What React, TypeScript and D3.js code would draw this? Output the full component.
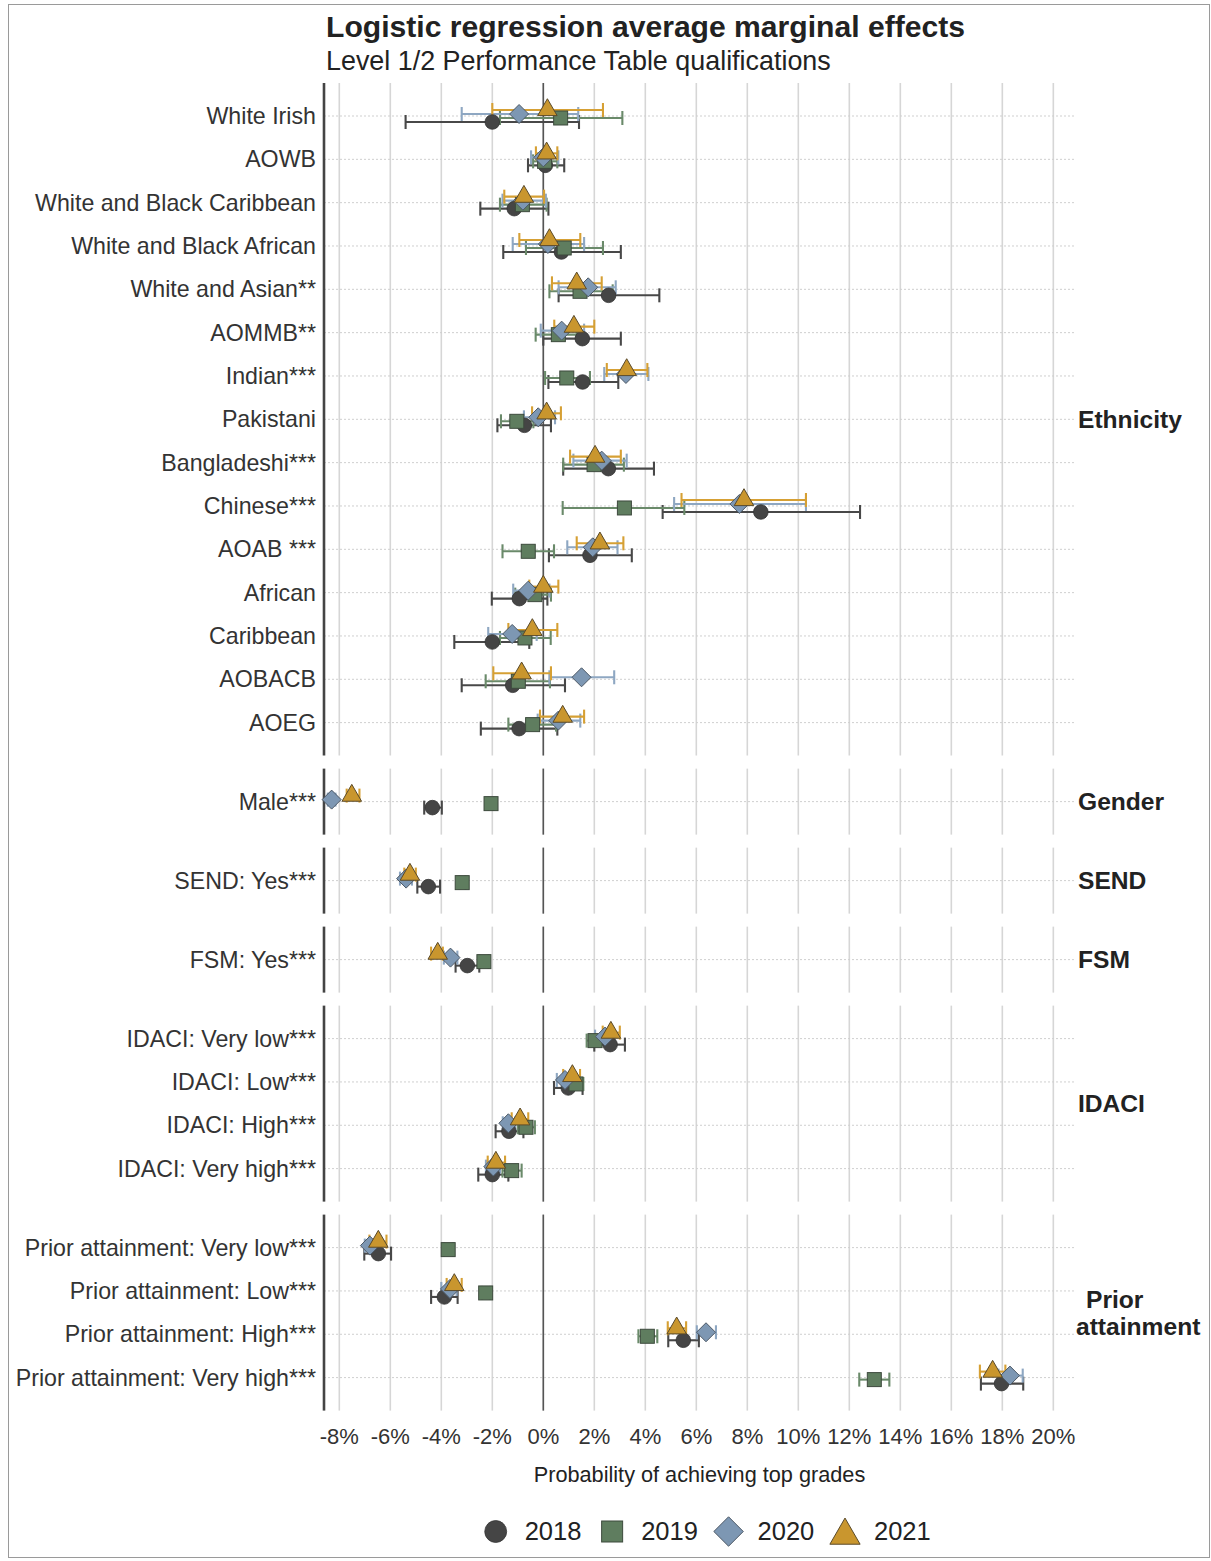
import React from "react";
import * as d3 from "d3";

const categories = [
  "White Irish", "AOWB", "White and Black Caribbean", "White and Black African",
  "White and Asian**", "AOMMB**", "Indian***", "Pakistani", "Bangladeshi***",
  "Chinese***", "AOAB ***", "African", "Caribbean", "AOBACB", "AOEG",
  "Male***", "SEND: Yes***", "FSM: Yes***",
  "IDACI: Very low***", "IDACI: Low***", "IDACI: High***", "IDACI: Very high***",
  "Prior attainment: Very low***", "Prior attainment: Low***",
  "Prior attainment: High***", "Prior attainment: Very high***",
];

const panelNames = [["Ethnicity"], ["Gender"], ["SEND"], ["FSM"], ["IDACI"], ["Prior", "attainment"]];
const panelSizes = [15, 1, 1, 1, 4, 4];

const years = ["2018", "2019", "2020", "2021"];

const est2018 = [-2.0, 0.08, -1.14, 0.71, 2.56, 1.53, 1.54, -0.74, 2.55, 8.53, 1.83, -0.94, -2.0, -1.2, -0.95, -4.35, -4.51, -2.98, 2.62, 0.98, -1.35, -2.0, -6.47, -3.88, 5.49, 17.97];
const lo2018 = [-5.4, -0.6, -2.47, -1.57, 0.6, 0.0, 0.2, -1.8, 0.78, 4.68, 0.22, -2.02, -3.49, -3.2, -2.45, -4.67, -4.94, -3.44, 2.0, 0.42, -1.87, -2.55, -7.02, -4.4, 4.9, 17.16];
const hi2018 = [1.4, 0.82, 0.2, 3.04, 4.55, 3.04, 2.94, 0.3, 4.34, 12.42, 3.47, 0.16, -0.55, 0.85, 0.55, -3.98, -4.05, -2.51, 3.2, 1.54, -0.78, -1.37, -5.97, -3.36, 6.1, 18.82];

const est2019 = [0.68, 0.05, -0.82, 0.82, 1.44, 0.59, 0.92, -1.04, 1.99, 3.18, -0.59, -0.33, -0.72, -0.98, -0.42, -2.05, -3.18, -2.33, 2.03, 1.28, -0.68, -1.24, -3.73, -2.26, 4.08, 12.98];
const lo2019 = [-1.7, -0.4, -1.7, -0.68, 0.24, -0.3, 0.07, -1.66, 0.78, 0.76, -1.6, -1.1, -1.7, -2.26, -1.37, -2.15, -3.3, -2.5, 1.7, 0.95, -1.0, -1.6, -3.9, -2.4, 3.73, 12.39];
const hi2019 = [3.1, 0.55, 0.13, 2.34, 2.72, 1.31, 1.83, -0.39, 3.16, 5.53, 0.42, 0.3, 0.29, 0.26, 0.5, -1.95, -3.05, -2.15, 2.4, 1.57, -0.33, -0.85, -3.55, -2.1, 4.47, 13.57];

const est2020 = [-0.95, 0.0, -0.8, 0.18, 1.76, 0.72, 3.24, -0.2, 2.29, 7.69, 1.94, -0.59, -1.22, 1.5, 0.59, -8.3, -5.38, -3.64, 2.42, 0.85, -1.37, -1.96, -6.8, -3.66, 6.38, 18.3];
const lo2020 = [-3.2, -0.48, -1.6, -1.2, 0.6, -0.1, 2.39, -0.76, 1.18, 5.13, 0.94, -1.18, -2.16, 0.24, -0.22, -8.45, -5.62, -3.9, 2.03, 0.53, -1.59, -2.25, -7.0, -4.0, 6.02, 17.85];
const hi2020 = [1.37, 0.59, 0.1, 1.6, 2.84, 1.6, 4.12, 0.46, 3.27, 10.3, 2.91, 0.24, -0.26, 2.78, 1.45, -8.15, -5.15, -3.37, 2.8, 1.17, -1.1, -1.7, -6.6, -3.4, 6.77, 18.8];

const est2021 = [0.16, 0.13, -0.76, 0.24, 1.31, 1.2, 3.27, 0.13, 2.03, 7.87, 2.22, 0.0, -0.43, -0.85, 0.76, -7.51, -5.23, -4.14, 2.65, 1.14, -0.91, -1.86, -6.47, -3.49, 5.23, 17.62];
const lo2021 = [-2.0, -0.29, -1.53, -0.94, 0.34, 0.43, 2.49, -0.44, 1.05, 5.42, 1.31, -0.55, -1.37, -1.96, -0.13, -7.71, -5.45, -4.4, 2.33, 0.78, -1.24, -2.18, -6.82, -3.79, 4.88, 17.12];
const hi2021 = [2.34, 0.55, 0.03, 1.45, 2.29, 2.0, 4.08, 0.69, 3.04, 10.3, 3.14, 0.59, 0.55, 0.3, 1.6, -7.21, -5.0, -3.94, 3.0, 1.44, -0.59, -1.5, -6.15, -3.2, 5.6, 18.12];

const xTicks = [-8, -6, -4, -2, 0, 2, 4, 6, 8, 10, 12, 14, 16, 18, 20];

const series = [
  { year: "2018", est: est2018, lo: lo2018, hi: hi2018, fill: "#454545", bar: "#484848", stroke: "#333333", shape: "circle" },
  { year: "2019", est: est2019, lo: lo2019, hi: hi2019, fill: "#5f7d5f", bar: "#6a8a6a", stroke: "#3d4a3d", shape: "square" },
  { year: "2020", est: est2020, lo: lo2020, hi: hi2020, fill: "#7d97b3", bar: "#8ea7c2", stroke: "#4d5966", shape: "diamond" },
  { year: "2021", est: est2021, lo: lo2021, hi: hi2021, fill: "#c9962e", bar: "#d6a034", stroke: "#5a4a2a", shape: "triangle" },
];

const FONT = "'Liberation Sans', Arial, Helvetica, sans-serif";

function marker(shape: string, x: number, y: number, s: number, fill: string, stroke: string, key?: string) {
  if (shape === "circle") return <circle key={key} cx={x} cy={y} r={7.3 * s} fill={fill} stroke={stroke} strokeWidth={0.8} />;
  if (shape === "square") {
    const h = 7 * s;
    return <rect key={key} x={x - h} y={y - h} width={2 * h} height={2 * h} fill={fill} stroke={stroke} strokeWidth={1} />;
  }
  if (shape === "diamond") {
    const h = 9.5 * s;
    return <path key={key} d={`M${x},${y - h}L${x + h},${y}L${x},${y + h}L${x - h},${y}Z`} fill={fill} stroke={stroke} strokeWidth={1} />;
  }
  const side = 19.5 * s;
  const ht = side * Math.sqrt(3) / 2;
  return <path key={key} d={`M${x},${y - (2 * ht) / 3}L${x + side / 2},${y + ht / 3}L${x - side / 2},${y + ht / 3}Z`} fill={fill} stroke={stroke} strokeWidth={1} />;
}

export default function App() {
  const W = 1211, H = 1561;
  const x = d3.scaleLinear().domain([-8.6, 20.85]).range([324, 1075]);
  const step = 43.33, pad = 33, gap = 13, top0 = 83;

  const panels: { top: number; bottom: number; rows: number[]; scale: d3.ScalePoint<string> }[] = [];
  let cur = top0;
  let idx = 0;
  panelSizes.forEach((n) => {
    const h = 2 * pad + (n - 1) * step;
    const rows = d3.range(idx, idx + n);
    const scale = d3.scalePoint<string>().domain(rows.map((r) => categories[r])).range([cur, cur + h]).padding(pad / step);
    panels.push({ top: cur, bottom: cur + h, rows, scale });
    cur += h + gap;
    idx += n;
  });
  const rowY = (r: number) => {
    const p = panels.find((pp) => pp.rows.includes(r))!;
    return p.scale(categories[r]) as number;
  };
  const dodge = d3.scalePoint<string>().domain(years).range([6, -6]);
  const plotBottom = panels[panels.length - 1].bottom;

  return (
    <div style={{ position: "absolute", left: 0, top: 0 }}>
      <svg width={W} height={H} style={{ display: "block", background: "#fff" }} fontFamily={FONT}>
        <rect x={8.5} y={4.5} width={1201} height={1553} fill="none" stroke="#9a9a9a" strokeWidth={1} />
        <text x={326} y={37} fontSize={30.1} fontWeight="bold" fill="#222">Logistic regression average marginal effects</text>
        <text x={326} y={70} fontSize={26.9} fill="#222">Level 1/2 Performance Table qualifications</text>

        {panels.map((p, pi) => (
          <g key={"panel" + pi}>
            {xTicks.map((t) => (
              <line key={t} x1={x(t)} x2={x(t)} y1={p.top} y2={p.bottom} stroke="#d6d6d6" strokeWidth={1.6} />
            ))}
            {p.rows.map((r) => (
              <line key={"h" + r} x1={x.range()[0]} x2={x.range()[1]} y1={rowY(r)} y2={rowY(r)} stroke="#cfcfcf" strokeWidth={1} strokeDasharray="2,2" />
            ))}
            <line x1={x(0)} x2={x(0)} y1={p.top} y2={p.bottom} stroke="#555" strokeWidth={1.6} />
            <line x1={x.range()[0]} x2={x.range()[0]} y1={p.top} y2={p.bottom} stroke="#444" strokeWidth={2.6} />
            {panelNames[pi].map((ln, li) => {
              const mid = (p.top + p.bottom) / 2;
              const n = panelNames[pi].length;
              const yy = mid + (li - (n - 1) / 2) * 27;
              const xx = n > 1 ? (li === 0 ? 1086 : 1076) : 1078;
              return (
                <text key={ln} x={xx} y={yy} dy="0.35em" fontSize={24.6} fontWeight="bold" fill="#222">{ln}</text>
              );
            })}
          </g>
        ))}

        {categories.map((c, r) => (
          <text key={c} x={316} y={rowY(r)} dy="0.35em" textAnchor="end" fontSize={23.2} fill="#333">{c}</text>
        ))}

        {series.map((s) => (
          <g key={"eb" + s.year}>
            {categories.map((c, r) => {
              const y = rowY(r) + (dodge(s.year) as number);
              const x1 = x(s.lo[r]), x2 = x(s.hi[r]);
              return (
                <g key={c}>
                  <line x1={x1} x2={x2} y1={y} y2={y} stroke={s.bar} strokeWidth={2.1} />
                  <line x1={x1} x2={x1} y1={y - 7} y2={y + 7} stroke={s.bar} strokeWidth={2.1} />
                  <line x1={x2} x2={x2} y1={y - 7} y2={y + 7} stroke={s.bar} strokeWidth={2.1} />
                </g>
              );
            })}
          </g>
        ))}

        {series.map((s) => (
          <g key={"pt" + s.year}>
            {categories.map((c, r) =>
              marker(s.shape, x(s.est[r]), rowY(r) + (dodge(s.year) as number), 1, s.fill, s.stroke, c)
            )}
          </g>
        ))}

        {xTicks.map((t) => (
          <text key={"tl" + t} x={x(t)} y={plotBottom + 26} dy="0.35em" textAnchor="middle" fontSize={22} fill="#333">{`${t}%`}</text>
        ))}
        <text x={(x.range()[0] + x.range()[1]) / 2} y={plotBottom + 64} dy="0.35em" textAnchor="middle" fontSize={21.7} fill="#222">Probability of achieving top grades</text>

        {(() => {
          const lx = d3.scalePoint<string>().domain(years).range([495.7, 845]);
          const ly = 1531.5;
          return series.map((s) => {
            const cx = lx(s.year) as number;
            return (
              <g key={"lg" + s.year}>
                {marker(s.shape, cx, s.shape === "triangle" ? ly + 4 : ly, s.shape === "circle" || s.shape === "square" ? 1.5 : 1.55, s.fill, s.stroke)}
                <text x={cx + 29} y={ly} dy="0.35em" fontSize={25.5} fill="#222">{s.year}</text>
              </g>
            );
          });
        })()}
      </svg>
    </div>
  );
}
